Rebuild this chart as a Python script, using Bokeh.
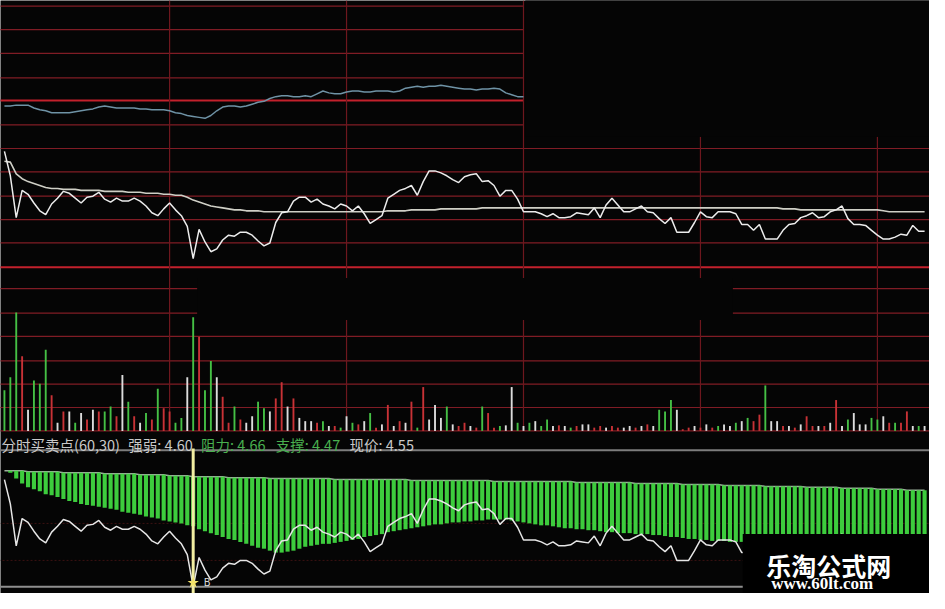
from bokeh.plotting import figure
from bokeh.models import Range1d, Label
from bokeh.embed import file_html
from bokeh.resources import INLINE
from bokeh.core.properties import value

# ---------------- data (one value per minute) ----------------
price = [
    4.630, 4.605, 4.562, 4.590, 4.586, 4.577, 4.569, 4.565, 4.576, 4.582,
    4.589, 4.587, 4.582, 4.577, 4.583, 4.584, 4.588, 4.581, 4.578, 4.582,
    4.579, 4.579, 4.582, 4.579, 4.574, 4.567, 4.564, 4.571, 4.577, 4.570,
    4.564, 4.553, 4.520, 4.550, 4.537, 4.527, 4.530, 4.539, 4.544, 4.543,
    4.547, 4.547, 4.544, 4.538, 4.533, 4.536, 4.557, 4.567, 4.568, 4.579,
    4.583, 4.583, 4.578, 4.581, 4.576, 4.574, 4.571, 4.576, 4.574, 4.569,
    4.574, 4.566, 4.556, 4.560, 4.564, 4.582, 4.586, 4.590, 4.592, 4.595,
    4.585, 4.599, 4.610, 4.610, 4.608, 4.605, 4.601, 4.598, 4.604, 4.606,
    4.607, 4.599, 4.600, 4.595, 4.584, 4.590, 4.590, 4.581, 4.568, 4.568,
    4.568, 4.566, 4.563, 4.566, 4.562, 4.562, 4.563, 4.567, 4.566, 4.565,
    4.572, 4.562, 4.575, 4.582, 4.575, 4.568, 4.568, 4.571, 4.574, 4.568,
    4.567, 4.561, 4.556, 4.562, 4.547, 4.547, 4.547, 4.557, 4.568, 4.563,
    4.562, 4.568, 4.568, 4.568, 4.566, 4.555, 4.555, 4.549, 4.555, 4.540,
    4.540, 4.540, 4.549, 4.555, 4.556, 4.562, 4.564, 4.567, 4.562, 4.563,
    4.568, 4.570, 4.574, 4.561, 4.555, 4.555, 4.554, 4.549, 4.544, 4.540,
    4.540, 4.542, 4.545, 4.544, 4.554, 4.548, 4.548,
]

avg_price = [
    4.620, 4.619, 4.607, 4.602, 4.599, 4.597, 4.595, 4.593, 4.592, 4.592,
    4.591, 4.591, 4.591, 4.590, 4.590, 4.590, 4.590, 4.589, 4.589, 4.589,
    4.589, 4.588, 4.588, 4.588, 4.587, 4.587, 4.587, 4.586, 4.586, 4.585,
    4.585, 4.583, 4.580, 4.578, 4.576, 4.574, 4.573, 4.572, 4.571, 4.570,
    4.570, 4.569, 4.569, 4.569, 4.568, 4.568, 4.568, 4.568, 4.568, 4.568,
    4.568, 4.568, 4.568, 4.568, 4.568, 4.568, 4.568, 4.568, 4.568, 4.568,
    4.568, 4.568, 4.568, 4.568, 4.568, 4.569, 4.569, 4.569, 4.569, 4.570,
    4.570, 4.570, 4.570, 4.570, 4.571, 4.571, 4.571, 4.571, 4.571, 4.571,
    4.571, 4.572, 4.572, 4.572, 4.572, 4.572, 4.572, 4.572, 4.572, 4.572,
    4.572, 4.572, 4.572, 4.572, 4.572, 4.572, 4.572, 4.572, 4.572, 4.572,
    4.572, 4.572, 4.572, 4.572, 4.572, 4.572, 4.572, 4.572, 4.572, 4.572,
    4.572, 4.572, 4.572, 4.572, 4.572, 4.572, 4.572, 4.572, 4.572, 4.572,
    4.572, 4.572, 4.572, 4.572, 4.572, 4.572, 4.572, 4.572, 4.572, 4.572,
    4.572, 4.572, 4.571, 4.571, 4.571, 4.570, 4.570, 4.570, 4.570, 4.570,
    4.570, 4.570, 4.570, 4.570, 4.570, 4.570, 4.570, 4.570, 4.570, 4.569,
    4.568, 4.568, 4.568, 4.568, 4.568, 4.568, 4.568,
]

index_line = [
    2988, 2988, 2989, 2989, 2989, 2986, 2984, 2983, 2981, 2981,
    2981, 2981, 2982, 2983, 2984, 2985, 2987, 2988, 2987, 2986,
    2986, 2986, 2986, 2985, 2985, 2984, 2984, 2984, 2983, 2981,
    2980, 2978, 2977, 2976, 2975, 2978, 2983, 2987, 2988, 2988,
    2987, 2988, 2990, 2992, 2993, 2996, 2998, 2999, 2999, 2998,
    2998, 2999, 2998, 3001, 3004, 3002, 3001, 3001, 3003, 3004,
    3004, 3003, 3003, 3004, 3004, 3004, 3003, 3004, 3007, 3008,
    3009, 3008, 3009, 3009, 3010, 3009, 3008, 3007, 3006, 3006,
    3005, 3006, 3006, 3007, 3006, 3002, 3000, 2998, 2998,
]

volume = [
    2500, 3300, 7300, 4600, 1300, 3100, 2900, 5000, 2200, 500,
    1200, 1200, 500, 1100, 700, 1300, 1200, 1200, 1500, 900,
    3440, 1800, 900, 500, 1100, 700, 2600, 1400, 1200, 500,
    800, 3300, 7000, 5800, 2500, 4300, 3300, 2100, 500, 1500,
    700, 500, 900, 1800, 1400, 1200, 2000, 3000, 1500, 2000,
    800, 600, 600, 500, 600, 300, 300, 200, 900, 500,
    400, 600, 1100, 200, 400, 1600, 300, 600, 500, 1800,
    200, 2700, 700, 1600, 800, 1500, 400, 300, 500, 300,
    200, 1500, 1100, 200, 300, 340, 2700, 500, 300, 500,
    600, 300, 700, 300, 340, 300, 200, 300, 400, 400,
    200, 300, 200, 300, 200, 200, 300, 200, 300, 400,
    300, 1300, 1200, 1900, 1300, 100, 200, 300, 200, 400,
    200, 300, 400, 300, 500, 600, 800, 600, 1000, 2800,
    600, 600, 300, 300, 200, 400, 900, 300, 300, 300,
    500, 1900, 300, 700, 1100, 400, 400, 800, 700, 900,
    500, 500, 500, 1200, 300, 300, 300,
]

# R = up (red), G = down (green), W = unchanged (white)
vol_dir = list(
    "GGGRWGGGRW" "RWGWRWRGGR" "WGRWGRGRRG" "GWGRGGWRRG" "RWWGGWRRWR"
    "WWWRGWRGWG" "RWGRWRWRWR" "GRWWWGWRRW" "RGRRGWWGWG" "WGGWRWGRWW"
    "RRWRRWWRWR" "WGGGWRRWRW" "RGWWGWGRRG" "WWRWRWRRWR" "WRWGWWWGGW"
    "RGRRWGW"
)

band_upper = [
    4.639, 4.639, 4.639, 4.639, 4.638, 4.638, 4.638, 4.638, 4.638, 4.638,
    4.637, 4.637, 4.637, 4.637, 4.637, 4.637, 4.637, 4.636, 4.636, 4.636,
    4.636, 4.636, 4.636, 4.635, 4.635, 4.635, 4.635, 4.635, 4.634, 4.634,
    4.634, 4.634, 4.633, 4.633, 4.633, 4.633, 4.633, 4.633, 4.632, 4.632,
    4.632, 4.632, 4.632, 4.632, 4.632, 4.631, 4.631, 4.631, 4.631, 4.631,
    4.631, 4.631, 4.631, 4.631, 4.631, 4.631, 4.630, 4.630, 4.630, 4.630,
    4.630, 4.630, 4.630, 4.630, 4.630, 4.630, 4.630, 4.630, 4.630, 4.629,
    4.629, 4.629, 4.629, 4.629, 4.629, 4.629, 4.629, 4.629, 4.629, 4.629,
    4.629, 4.629, 4.629, 4.628, 4.628, 4.628, 4.628, 4.628, 4.628, 4.628,
    4.628, 4.628, 4.628, 4.628, 4.628, 4.628, 4.628, 4.627, 4.627, 4.627,
    4.627, 4.627, 4.627, 4.627, 4.627, 4.627, 4.627, 4.626, 4.626, 4.626,
    4.626, 4.626, 4.626, 4.626, 4.626, 4.625, 4.625, 4.625, 4.625, 4.625,
    4.625, 4.625, 4.624, 4.624, 4.624, 4.624, 4.624, 4.624, 4.624, 4.623,
    4.623, 4.623, 4.623, 4.623, 4.623, 4.623, 4.622, 4.622, 4.622, 4.622,
    4.622, 4.622, 4.621, 4.621, 4.621, 4.621, 4.621, 4.621, 4.620, 4.620,
    4.620, 4.620, 4.620, 4.619, 4.619, 4.619, 4.619,
]

band_lower = [
    4.639, 4.637, 4.631, 4.626, 4.622, 4.620, 4.618, 4.615, 4.614, 4.612,
    4.610, 4.608, 4.607, 4.605, 4.604, 4.603, 4.602, 4.601, 4.600, 4.599,
    4.597, 4.596, 4.595, 4.594, 4.592, 4.591, 4.590, 4.588, 4.587, 4.586,
    4.585, 4.583, 4.582, 4.579, 4.577, 4.575, 4.573, 4.571, 4.569, 4.568,
    4.566, 4.564, 4.562, 4.560, 4.559, 4.557, 4.555, 4.555, 4.556, 4.557,
    4.559, 4.561, 4.562, 4.563, 4.564, 4.564, 4.565, 4.566, 4.567, 4.568,
    4.569, 4.571, 4.572, 4.573, 4.574, 4.576, 4.577, 4.578, 4.579, 4.580,
    4.581, 4.582, 4.583, 4.584, 4.584, 4.585, 4.586, 4.586, 4.587, 4.587,
    4.588, 4.588, 4.589, 4.589, 4.589, 4.589, 4.588, 4.587, 4.586, 4.585,
    4.584, 4.583, 4.583, 4.582, 4.581, 4.580, 4.580, 4.579, 4.579, 4.578,
    4.578, 4.577, 4.576, 4.576, 4.575, 4.575, 4.575, 4.574, 4.574, 4.574,
    4.573, 4.573, 4.572, 4.571, 4.571, 4.570, 4.569, 4.569, 4.568, 4.568,
    4.567, 4.567, 4.567, 4.566, 4.566, 4.566, 4.565, 4.565, 4.565, 4.565,
    4.565, 4.565, 4.565, 4.565, 4.564, 4.564, 4.564, 4.564, 4.564, 4.564,
    4.564, 4.564, 4.563, 4.563, 4.563, 4.563, 4.563, 4.563, 4.563, 4.563,
    4.562, 4.562, 4.562, 4.562, 4.562, 4.562, 4.562,
]

idx_grid = [3094, 3069, 3044, 3018, 2994, 2968]
idx_grid_bright = [False, False, False, False, True, False]
price_grid = [4.633, 4.609, 4.584, 4.560, 4.536, 4.511]
price_grid_bright = [False, False, False, False, False, True]
vol_grid = [8760, 7260, 5820, 4320, 2880, 1440, 0]
time_grid = [28, 58, 88, 118, 148]          # minute marks of the vertical lines
signal_idx = [32]                            # buy point ("B")
strength, resistance, support, last_price = 4.60, 4.66, 4.47, 4.55
ind_name = "分时买卖点(60,30)"

# ---------------- layout ----------------
REF_W, REF_H = 945, 609
W, H = 929, 593
BG = "#050505"
GRID = "#801c25"
GRID_BRIGHT = "#c3212c"
VGRID = "#6e171e"

N = len(price)
minutes = list(range(N))

def sx(px):
    return px * W / REF_W

def sy(py):
    return (REF_H - py) * H / REF_H

p = figure(width=W, height=H, output_backend="svg", toolbar_location=None,
           x_range=Range1d(-4 / 6, 941 / 6), y_range=Range1d(4.176, 4.785),
           x_axis_location=None, y_axis_location=None, min_border=0,
           background_fill_color=BG, border_fill_color=BG, outline_line_color=None)
p.grid.visible = False
p.extra_y_ranges = {
    "idx": Range1d(2470.87, 3100),
    "vol": Range1d(-10020, 26520),
    "ind": Range1d(4.513, 5.122),
}

# grid: top (index) panel
p.segment(x0=-1, x1=88, y0=idx_grid, y1=idx_grid, y_range_name="idx",
          line_color=[GRID_BRIGHT if b else GRID for b in idx_grid_bright],
          line_width=[2 if b else 1.2 for b in idx_grid_bright])
# grid: price panel
p.segment(x0=-1, x1=158, y0=price_grid, y1=price_grid,
          line_color=[GRID_BRIGHT if b else GRID for b in price_grid_bright],
          line_width=[2 if b else 1.2 for b in price_grid_bright])
# grid: volume panel
p.segment(x0=-1, x1=158, y0=vol_grid, y1=vol_grid, y_range_name="vol",
          line_color=GRID, line_width=1.2)
# vertical time lines
p.segment(x0=time_grid, x1=time_grid,
          y0=[4.785, 4.785, 4.785, 4.645, 4.645], y1=4.343,
          line_color=VGRID, line_width=1.2)
# screenshot's blank areas
p.quad(left=88.3, right=158, top=4.8, bottom=4.645, fill_color=BG, line_color=None)
p.quad(left=32.67, right=123.5, top=4.500, bottom=4.457, fill_color=BG, line_color=None)

# index line (top panel)
p.line(minutes[:len(index_line)], index_line, y_range_name="idx",
       line_color="#6f93a6", line_width=1.5)
# price panel
p.line(minutes, avg_price, line_color="#cfcfc6", line_width=1.6)
p.line(minutes, price, line_color="#ececec", line_width=1.5)

# volume bars
vcol = {"R": "#c83236", "G": "#45c045", "W": "#dcdcdc"}
p.vbar(x=minutes, top=volume, bottom=0, width=0.32, y_range_name="vol",
       fill_color=[vcol[d] for d in vol_dir], line_color=None)

# bottom indicator panel
p.segment(x0=-1, x1=158, y0=resistance, y1=resistance, y_range_name="ind",
          line_color="#7d7d7d", line_width=2)
p.segment(x0=-1, x1=158, y0=[4.585, 4.547], y1=[4.585, 4.547], y_range_name="ind",
          line_color="#3c1212", line_width=1, line_dash="2 2")
p.line(minutes, band_upper, y_range_name="ind", line_color="#9cb09c", line_width=1.5)
p.vbar(x=minutes, top=band_upper, bottom=band_lower, width=0.7, y_range_name="ind",
       fill_color="#3dcc3d", line_color=None)
p.line(minutes, price, y_range_name="ind", line_color="#e6e6e6", line_width=1.5)
low = min(price)
p.segment(x0=-1, x1=158, y0=low, y1=low, y_range_name="ind",
          line_color="#8f8f8f", line_width=2)
p.segment(x0=signal_idx, x1=signal_idx, y0=resistance + 0.002, y1=4.50,
          y_range_name="ind", line_color="#f2eea2", line_width=3)
sig_y = [price[i] + 0.004 for i in signal_idx]
p.scatter(x=signal_idx, y=sig_y, marker="star", size=12, y_range_name="ind",
          fill_color="#f3e36a", line_color=None)
p.text(x=signal_idx, y=sig_y, text=["B"], x_offset=14, y_range_name="ind",
       text_font=value("DejaVu Sans"), text_font_size="10px", text_color="#d8d8d8",
       text_baseline="middle", text_align="center")

# watermark box
p.quad(left=125.17, right=158, top=4.574, bottom=4.40, y_range_name="ind",
       fill_color="#000000", line_color=None)

# indicator title
title_parts = [
    (ind_name, 1, "#c9c9c9"),
    (f"强弱: {strength:.2f}", 130, "#c9c9c9"),
    (f"阻力: {resistance:.2f}", 204, "#49b04f"),
    (f"支撑: {support:.2f}", 280, "#49b04f"),
    (f"现价: {last_price:.2f}", 355, "#c9c9c9"),
]
for txt, px, col in title_parts:
    p.add_layout(Label(x=sx(px), y=sy(456), x_units="screen", y_units="screen",
                       text=txt, text_color=col, text_font="Noto Sans CJK SC",
                       text_font_size="14.5px", text_baseline="alphabetic"))

p.add_layout(Label(x=sx(779), y=sy(580), x_units="screen", y_units="screen",
                   text="乐淘公式网", text_color="#ffffff", text_font="Noto Sans CJK SC",
                   text_font_size="25px", text_font_style="bold",
                   text_baseline="alphabetic"))
p.add_layout(Label(x=sx(784), y=sy(599), x_units="screen", y_units="screen",
                   text="www.60lt.com", text_color="#ffffff", text_font="Liberation Serif",
                   text_font_size="17px", text_font_style="bold",
                   text_baseline="alphabetic"))

open("out.html", "w").write(file_html(p, INLINE))
